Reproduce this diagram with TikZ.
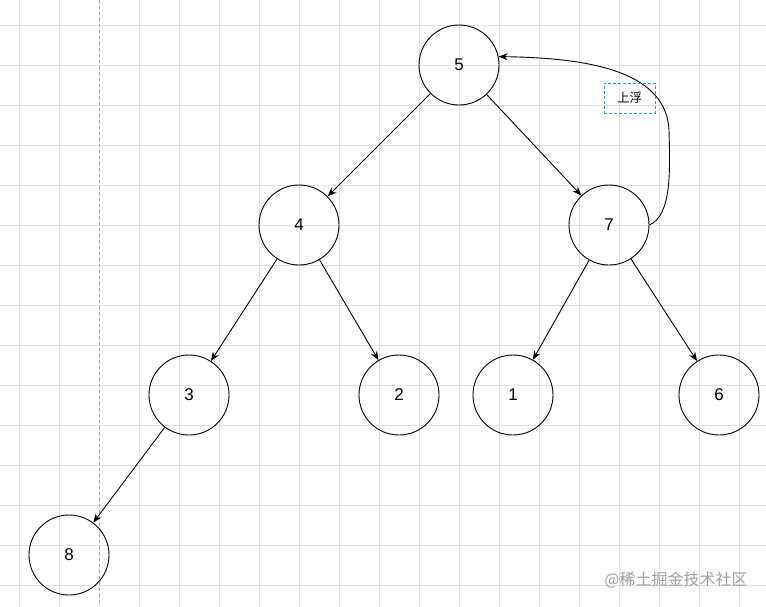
\documentclass[tikz,border=0pt]{standalone}
\usepackage{fontspec}
\setmainfont{Liberation Sans}
\newfontfamily\cjkfont{Noto Sans CJK SC}
\usetikzlibrary{arrows.meta}
\definecolor{gridgray}{RGB}{226,226,226}
\definecolor{guidegray}{RGB}{170,170,170}
\definecolor{tagblue}{RGB}{40,160,210}
\definecolor{marktext}{RGB}{160,160,160}
\tikzset{
  keynode/.style={draw, circle, minimum size=80pt, inner sep=0pt, line width=0.9pt, font=\fontsize{17}{20}\selectfont},
  fl/.style={-{Stealth[length=9pt,width=7pt]}, line width=0.9pt},
  tag/.style={draw=tagblue, dash pattern=on 3pt off 2pt, line width=0.8pt, minimum width=51pt, minimum height=30pt, inner sep=0pt, font=\cjkfont\fontsize{12.5}{14}\selectfont},
  gridln/.style={gridgray, line width=0.7pt},
}

\begin{document}
\begin{tikzpicture}[x=1pt, y=-1pt]
\useasboundingbox[fill=white] (0,0) rectangle (766,606);
% background grid
\foreach \gx in {19,59,...,739} \draw[gridln] (\gx,0) -- (\gx,606);
\foreach \gy in {25,65,...,585} \draw[gridln] (0,\gy) -- (766,\gy);
\draw[guidegray, dashed, line width=0.7pt] (99,0) -- (99,606);
% heap nodes
\node[keynode] (n5) at (459,65) {5};
\node[keynode] (n4) at (299,225) {4};
\node[keynode] (n7) at (609,225) {7};
\node[keynode] (n3) at (189,395) {3};
\node[keynode] (n2) at (399,395) {2};
\node[keynode] (n1) at (513,395) {1};
\node[keynode] (n6) at (719,395) {6};
\node[keynode] (n8) at (69,555) {8};
% tree edges
\draw[fl] (n5) -- (n4);
\draw[fl] (n5) -- (n7);
\draw[fl] (n4) -- (n3);
\draw[fl] (n4) -- (n2);
\draw[fl] (n7) -- (n1);
\draw[fl] (n7) -- (n6);
\draw[fl] (n3) -- (n8);
% sift up
\draw[fl] (n7.east) .. controls (672,215) and (670,170) .. (669,130)
  .. controls (666,75) and (600,58) .. (n5.12);
\node[tag] (up) at (629.5,98) {上浮};
\node[font=\cjkfont\fontsize{16}{18}\selectfont, text=marktext] (mark) at (676,580) {@稀土掘金技术社区};
\end{tikzpicture}
\end{document}
